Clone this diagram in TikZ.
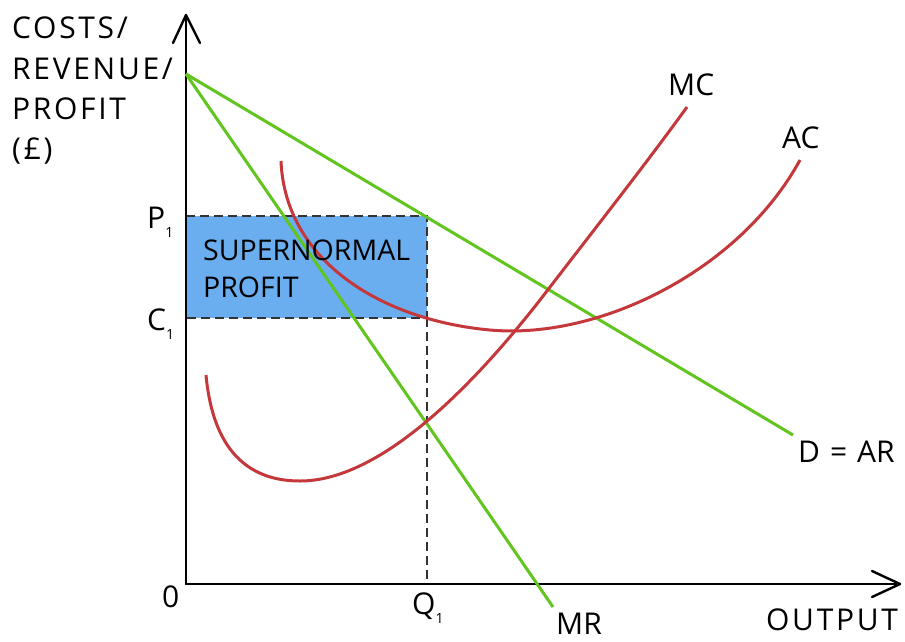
\documentclass[tikz,border=0pt]{standalone}
\usepackage{fontspec}
\setmainfont{Open Sans}
\usetikzlibrary{calc}
\definecolor{curvegreen}{RGB}{98,196,30}
\definecolor{curvered}{RGB}{196,56,60}
\definecolor{boxblue}{RGB}{106,174,240}
\newcommand{\subone}{\raisebox{-9pt}{\fontsize{14}{14}\selectfont 1}}
\begin{document}
\begin{tikzpicture}[x=1pt,y=-1pt,
  axisline/.style={line width=2.4pt,black,line cap=round,line join=round},
  demandline/.style={line width=3pt,curvegreen},
  costcurve/.style={line width=3pt,curvered},
  guide/.style={line width=2.6pt,black!80,dash pattern=on 9pt off 5pt},
  lbl/.style={font=\fontsize{30}{30}\selectfont,inner sep=0pt,anchor=base west},
  widelbl/.style={lbl,font=\fontsize{30}{30}\selectfont\addfontfeature{LetterSpace=9}},
  boxlbl/.style={lbl,font=\fontsize{28.5}{28.5}\selectfont}]
\useasboundingbox (0,0) rectangle (905,641);
% coordinates
\coordinate (O) at (186,584);
\coordinate (ytip) at (186,15);
\coordinate (xtip) at (900,584);
\coordinate (top) at (186,74);
\coordinate (arend) at (793,435);
\coordinate (mrend) at (553,607);
\coordinate (P1) at (186,216);
\coordinate (C1) at (186,318);
\coordinate (BP) at (427,216);
\coordinate (BC) at (427,318);
\coordinate (Q1) at (427,584);
% box
\fill[boxblue] (P1) rectangle (BC);
\draw[guide] (P1) -- (BP) -- (BC) -- (C1);
\draw[guide] (BC) -- (Q1);
% axes
\draw[axisline] (O) -- (ytip);
\draw[axisline] ($(ytip)+(-13,28)$) -- (ytip) -- ($(ytip)+(14,28)$);
\draw[axisline] (O) -- (xtip);
\draw[axisline] ($(xtip)+(-28,-13)$) -- (xtip) -- ($(xtip)+(-28,13)$);
% demand and MR
\draw[demandline] (top) -- (arend);
\draw[demandline] (top) -- (mrend);
% cost curves
\draw[costcurve] (206,375) .. controls (212,440) and (240,481) .. (300,481)
  .. controls (378,481) and (468,392) .. (540,300)
  .. controls (600,222) and (645,165) .. (687,107);
\draw[costcurve] (281,161) .. controls (285,260) and (380,320) .. (490,330)
  .. controls (600,340) and (740,270) .. (800,160);
% labels
\node[widelbl] (ylab1) at (12,38) {COSTS/};
\node[widelbl] (ylab2) at (12,79) {REVENUE/};
\node[widelbl] (ylab3) at (12,119) {PROFIT};
\node[widelbl] (ylab4) at (12,159) {(£)};
\node[lbl] (plab) at (147,228) {P\subone};
\node[lbl] (clab) at (147,330) {C\subone};
\node[lbl] (zlab) at (162,607) {0};
\node[lbl] (qlab) at (412,614) {Q\subone};
\node[lbl] (mrlab) at (556,634) {MR};
\node[widelbl] (outlab) at (766,630) {OUTPUT};
\node[lbl] (arlab) at (798,462) {D\,\,=\,\,AR};
\node[lbl] (mclab) at (668,95) {MC};
\node[lbl] (aclab) at (782,148) {AC};
\node[boxlbl] (sn1) at (203,260) {SUPERNORMAL};
\node[boxlbl] (sn2) at (203,297) {PROFIT};
\end{tikzpicture}
\end{document}
